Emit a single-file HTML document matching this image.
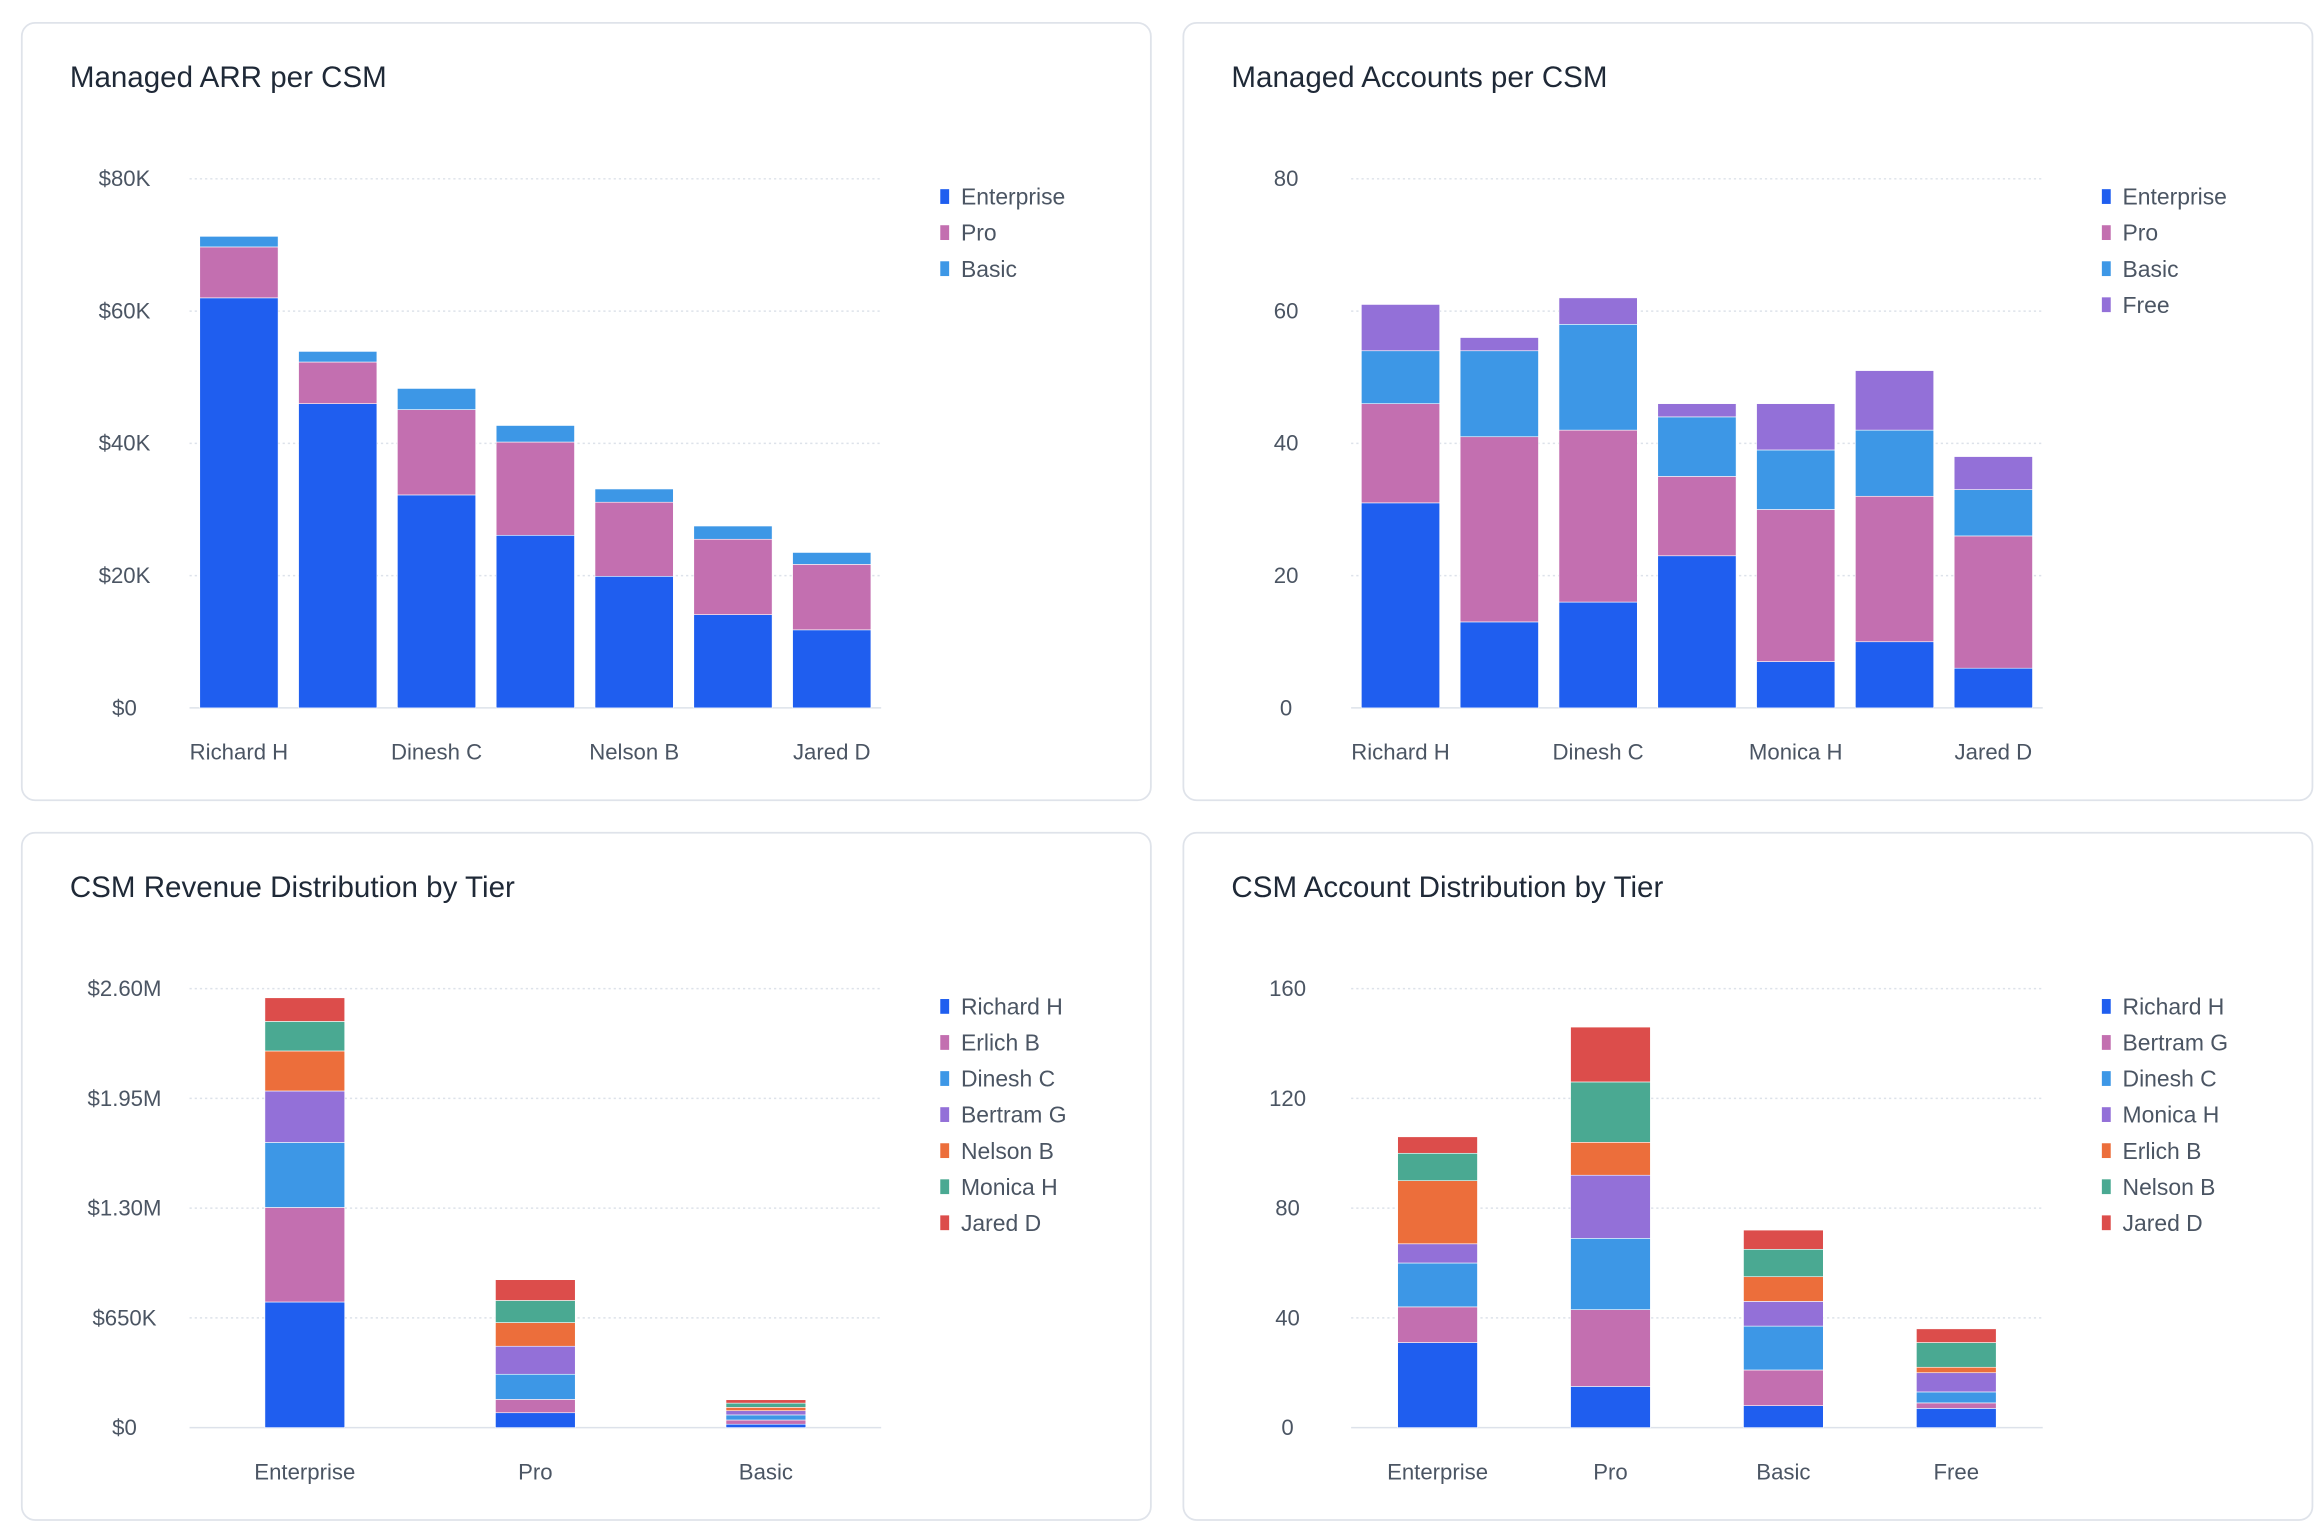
<!DOCTYPE html>
<html><head><meta charset="utf-8"><style>
html,body{margin:0;padding:0;background:#fff;}
svg{display:block;font-family:"Liberation Sans",sans-serif;}
</style></head><body>
<svg id="root" width="2318" height="1534" viewBox="0 0 1568 1038" xmlns="http://www.w3.org/2000/svg">
<rect x="0" y="0" width="1568" height="1038" fill="#ffffff"/>
</svg>
<script>
// ---- Chart 1: Managed ARR per CSM ($K) ----
const arrCsms = ["Richard H","Erlich B","Dinesh C","Bertram G","Nelson B","Monica H","Jared D"];
const arrSeries = ["Enterprise","Pro","Basic"];
const arrEnterprise = [62,46,32.2,26.1,19.9,14.1,11.8];
const arrPro = [7.7,6.3,12.9,14.1,11.2,11.4,9.9];
const arrBasic = [1.6,1.6,3.2,2.5,2.0,2.0,1.8];
const arrTicks = [0,20,40,60,80];
const arrTickLabels = ["$0","$20K","$40K","$60K","$80K"];

// ---- Chart 2: Managed Accounts per CSM ----
const accCsms = ["Richard H","Bertram G","Dinesh C","Erlich B","Monica H","Nelson B","Jared D"];
const accSeries = ["Enterprise","Pro","Basic","Free"];
const accEnterprise = [31,13,16,23,7,10,6];
const accPro = [15,28,26,12,23,22,20];
const accBasic = [8,13,16,9,9,10,7];
const accFree = [7,2,4,2,7,9,5];
const accTicks = [0,20,40,60,80];
const accTickLabels = ["0","20","40","60","80"];

// ---- Chart 3: CSM Revenue Distribution by Tier ($M) ----
const revTiers = ["Enterprise","Pro","Basic"];
const revSeries = ["Richard H","Erlich B","Dinesh C","Bertram G","Nelson B","Monica H","Jared D"];
const revRichard = [0.744,0.088,0.02];
const revErlich = [0.56,0.079,0.025];
const revDinesh = [0.385,0.149,0.03];
const revBertram = [0.305,0.166,0.025];
const revNelson = [0.237,0.14,0.02];
const revMonica = [0.175,0.131,0.025];
const revJared = [0.14,0.123,0.02];
const revTicks = [0,0.65,1.3,1.95,2.6];
const revTickLabels = ["$0","$650K","$1.30M","$1.95M","$2.60M"];

// ---- Chart 4: CSM Account Distribution by Tier ----
const adTiers = ["Enterprise","Pro","Basic","Free"];
const adSeries = ["Richard H","Bertram G","Dinesh C","Monica H","Erlich B","Nelson B","Jared D"];
const adRichard = [31,15,8,7];
const adBertram = [13,28,13,2];
const adDinesh = [16,26,16,4];
const adMonica = [7,23,9,7];
const adErlich = [23,12,9,2];
const adNelson = [10,22,10,9];
const adJared = [6,20,7,5];
const adTicks = [0,40,80,120,160];
const adTickLabels = ["0","40","80","120","160"];

const NS = "http://www.w3.org/2000/svg";
const root = document.getElementById('root');
function mk(tag, attrs, parent){
  const e = document.createElementNS(NS, tag);
  for (const k in attrs) e.setAttribute(k, attrs[k]);
  (parent||root).appendChild(e);
  return e;
}
const BLUE="#1f5eef", PINK="#c36fb0", LBLUE="#3d97e6", PURPLE="#9370d8", ORANGE="#ec6e3b", GREEN="#4aa992", RED="#dc4d4b";

function panel(px, py, w, h, title, name){
  const g = mk('g', {});
  
  
  const r = mk('rect', {x:px+0.5, y:py+0.5, width:w, height:h, rx:9, fill:'#fff', stroke:'#dfe3ea', 'stroke-width':1.2}, g);
  
  
  const t = mk('text', {x:px+33, y:py+44, 'font-size':20, fill:'#1f2937'}, g);
  t.textContent = title;
  
  
  return g;
}

function chart(g, opt){
  const {x0,x1,yTop,yBot,max,ticks,tickLabels,labelCenter,cats,catShown,series,colors,values,barW,legendX,legendY,xLabelY} = opt;
  const yScale = v => yBot - (v/max)*(yBot-yTop);
  const band = (x1-x0)/cats.length;
  const xCenter = i => x0 + band*(i+0.5);
  ticks.forEach((t,i)=>{
    const y = yScale(t);
    const l = mk('line', {x1:x0, x2:x1, y1:y, y2:y, stroke:'#dde2ea', 'stroke-width':1, 'stroke-dasharray': i===0?'none':'1.5,2'}, g);
    
    
    const tx = mk('text', {x:labelCenter, y:y+5, 'text-anchor':'middle', 'font-size':15, fill:'#4b5563'}, g);
    tx.textContent = tickLabels[i];
    
    
  });
  cats.forEach((c,i)=>{
    let acc = 0;
    series.forEach((s,j)=>{
      const v = values[j][i];
      const yt = yScale(acc+v), yb = yScale(acc);
      const b = mk('rect', {x:xCenter(i)-barW/2, y:yt, width:barW, height:Math.max(0,yb-yt), fill:colors[j], stroke:'#ffffff', 'stroke-width':0.4}, g);
      
      
      acc += v;
    });
    if (catShown(i)){
      const t = mk('text', {x:xCenter(i), y:xLabelY, 'text-anchor':'middle', 'font-size':15, fill:'#4b5563'}, g);
      t.textContent = c;
      
      
    }
  });
  series.forEach((s,j)=>{
    const y = legendY + j*24.4;
    const sq = mk('rect', {x:legendX, y:y-5, width:6, height:10, fill:colors[j]}, g);
    
    
    const t = mk('text', {x:legendX+14, y:y+5.5, 'font-size':15.5, fill:'#4b5563'}, g);
    t.textContent = s;
    
    
  });
}

const g1 = panel(14,15,764,526,"Managed ARR per CSM","managed-arr-chart");
chart(g1,{x0:128,x1:596,yTop:121,yBot:479,max:80,ticks:arrTicks,tickLabels:arrTickLabels,labelCenter:84,
  cats:arrCsms,catShown:i=>i%2===0,series:arrSeries,colors:[BLUE,PINK,LBLUE],
  values:[arrEnterprise,arrPro,arrBasic],barW:53,legendX:636,legendY:133,xLabelY:514});

const g2 = panel(800,15,764,526,"Managed Accounts per CSM","managed-accounts-chart");
chart(g2,{x0:914,x1:1382,yTop:121,yBot:479,max:80,ticks:accTicks,tickLabels:accTickLabels,labelCenter:870,
  cats:accCsms,catShown:i=>i%2===0,series:accSeries,colors:[BLUE,PINK,LBLUE,PURPLE],
  values:[accEnterprise,accPro,accBasic,accFree],barW:53,legendX:1422,legendY:133,xLabelY:514});

const g3 = panel(14,563,764,465,"CSM Revenue Distribution by Tier","revenue-distribution-chart");
chart(g3,{x0:128,x1:596,yTop:669,yBot:966,max:2.6,ticks:revTicks,tickLabels:revTickLabels,labelCenter:84,
  cats:revTiers,catShown:i=>true,series:revSeries,colors:[BLUE,PINK,LBLUE,PURPLE,ORANGE,GREEN,RED],
  values:[revRichard,revErlich,revDinesh,revBertram,revNelson,revMonica,revJared],barW:54,legendX:636,legendY:681,xLabelY:1001});

const g4 = panel(800,563,764,465,"CSM Account Distribution by Tier","account-distribution-chart");
chart(g4,{x0:914,x1:1382,yTop:669,yBot:966,max:160,ticks:adTicks,tickLabels:adTickLabels,labelCenter:871,
  cats:adTiers,catShown:i=>true,series:adSeries,colors:[BLUE,PINK,LBLUE,PURPLE,ORANGE,GREEN,RED],
  values:[adRichard,adBertram,adDinesh,adMonica,adErlich,adNelson,adJared],barW:54,legendX:1422,legendY:681,xLabelY:1001});
</script>
</body></html>
